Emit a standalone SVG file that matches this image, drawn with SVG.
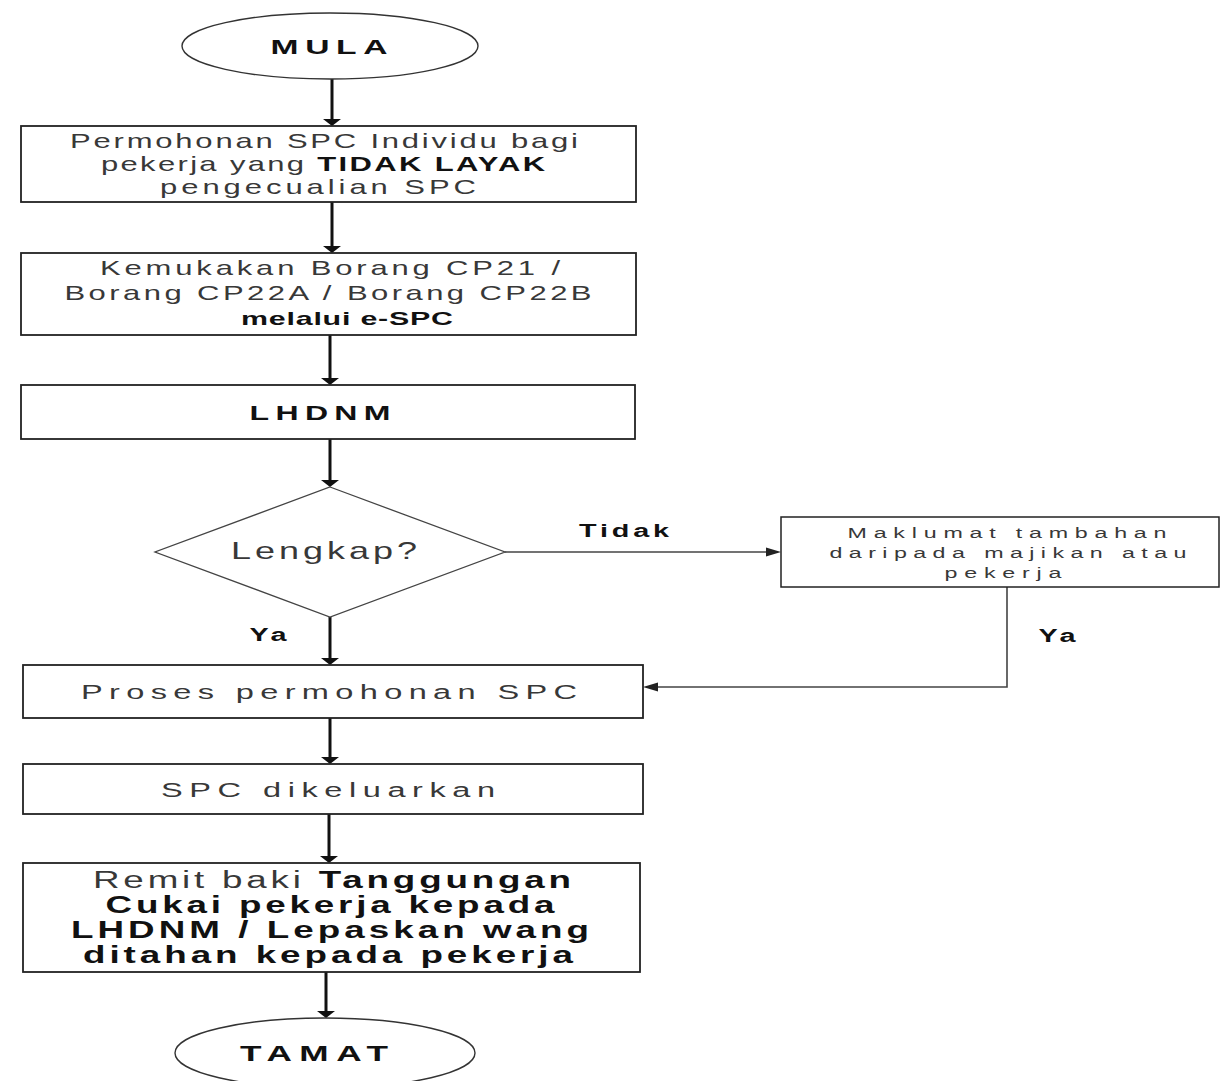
<svg xmlns="http://www.w3.org/2000/svg" width="1222" height="1081" viewBox="0 0 1222 1081">
<style>
.bg{fill:#ffffff}
.box{fill:#ffffff;stroke:#222;stroke-width:1.8}
.term{fill:#ffffff;stroke:#333;stroke-width:1.4}
.dia{fill:#ffffff;stroke:#444;stroke-width:1.3}
.t{font-family:"Liberation Sans",Arial,sans-serif;fill:#383838;text-anchor:middle}
.b{font-family:"Liberation Sans",Arial,sans-serif;fill:#111;font-weight:bold;text-anchor:middle}
.bs{fill:#111;font-weight:bold}
.thick{stroke:#111;stroke-width:3;fill:none}
.thin{stroke:#444;stroke-width:1.6;fill:none}
</style>
<defs>
<marker id="ah" markerUnits="userSpaceOnUse" markerWidth="10" markerHeight="20" refX="0" refY="9" orient="auto" overflow="visible">
<path d="M0,0 L7,9 L0,18 Z" fill="#111"/>
</marker>
<marker id="ahs" markerUnits="userSpaceOnUse" markerWidth="16" markerHeight="10" refX="0" refY="4.5" orient="auto" overflow="visible">
<path d="M0,0 L15,4.5 L0,9 Z" fill="#222"/>
</marker>
</defs>
<rect class="bg" x="0" y="0" width="1222" height="1081"/>

<g id="connectors">
<line class="thick" x1="332" y1="79" x2="332" y2="119" marker-end="url(#ah)"/>
<line class="thick" x1="332" y1="202" x2="332" y2="246" marker-end="url(#ah)"/>
<line class="thick" x1="330" y1="335" x2="330" y2="378" marker-end="url(#ah)"/>
<line class="thick" x1="330" y1="439" x2="330" y2="480" marker-end="url(#ah)"/>
<line class="thick" x1="330" y1="617" x2="330" y2="658" marker-end="url(#ah)"/>
<line class="thin" x1="505" y1="552" x2="766" y2="552" marker-end="url(#ahs)"/>
<polyline class="thin" points="1007,587 1007,687 658,687" marker-end="url(#ahs)"/>
<line class="thick" x1="330" y1="718" x2="330" y2="757" marker-end="url(#ah)"/>
<line class="thick" x1="329" y1="814" x2="329" y2="856" marker-end="url(#ah)"/>
<line class="thick" x1="326" y1="972" x2="326" y2="1011" marker-end="url(#ah)"/>
<text class="b" transform="translate(624,537) scale(1.6,1)" x="0" y="0" font-size="18" textLength="56.25" lengthAdjust="spacing">Tidak</text>
<text class="b" transform="translate(268,641) scale(1.6,1)" x="0" y="0" font-size="18" textLength="23.1" lengthAdjust="spacing">Ya</text>
<text class="b" transform="translate(1057,642) scale(1.6,1)" x="0" y="0" font-size="18" textLength="23.1" lengthAdjust="spacing">Ya</text>
</g>

<g id="mula">
<ellipse class="term" cx="330" cy="46" rx="148" ry="33"/>
<text class="b" transform="translate(329,54) scale(1.6,1)" x="0" y="0" font-size="21" textLength="73.1" lengthAdjust="spacing">MULA</text>
</g>

<g id="permohonan">
<rect class="box" x="21" y="126" width="615" height="76"/>
<text class="t" transform="translate(324,148) scale(1.55,1)" x="0" y="0" font-size="20" textLength="327.7" lengthAdjust="spacing">Permohonan SPC Individu bagi</text>
<text class="t" transform="translate(323,171) scale(1.55,1)" x="0" y="0" font-size="20" textLength="286.5" lengthAdjust="spacing">pekerja yang <tspan class="bs">TIDAK LAYAK</tspan></text>
<text class="t" transform="translate(318,194) scale(1.55,1)" x="0" y="0" font-size="20" textLength="203.9" lengthAdjust="spacing">pengecualian SPC</text>
</g>

<g id="borang">
<rect class="box" x="21" y="253" width="615" height="82"/>
<text class="t" transform="translate(330,275) scale(1.55,1)" x="0" y="0" font-size="20" textLength="296.8" lengthAdjust="spacing">Kemukakan Borang CP21 /</text>
<text class="t" transform="translate(328,300) scale(1.55,1)" x="0" y="0" font-size="20" textLength="340" lengthAdjust="spacing">Borang CP22A / Borang CP22B</text>
<text class="b" transform="translate(347,325) scale(1.6,1)" x="0" y="0" font-size="19" textLength="132.5" lengthAdjust="spacing">melalui e-SPC</text>
</g>

<g id="lhdnm">
<rect class="box" x="21" y="385" width="614" height="54"/>
<text class="b" transform="translate(320,420) scale(1.6,1)" x="0" y="0" font-size="20" textLength="88.1" lengthAdjust="spacing">LHDNM</text>
</g>

<g id="lengkap">
<polygon class="dia" points="330,487 505,552 330,617 155,552"/>
<text class="t" transform="translate(324,559) scale(1.5,1)" x="0" y="0" font-size="24" textLength="124" lengthAdjust="spacing">Lengkap?</text>
</g>

<g id="maklumat">
<rect class="box" x="781" y="517" width="438" height="70" style="stroke-width:1.5"/>
<text class="t" transform="translate(1007,538) scale(1.55,1)" x="0" y="0" font-size="15" textLength="205.8" lengthAdjust="spacing">Maklumat tambahan</text>
<text class="t" transform="translate(1008,558) scale(1.55,1)" x="0" y="0" font-size="15" textLength="230.3" lengthAdjust="spacing">daripada majikan atau</text>
<text class="t" transform="translate(1003,578) scale(1.55,1)" x="0" y="0" font-size="15" textLength="75.5" lengthAdjust="spacing">pekerja</text>
</g>

<g id="proses">
<rect class="box" x="23" y="665" width="620" height="53"/>
<text class="t" transform="translate(329,699) scale(1.55,1)" x="0" y="0" font-size="21" textLength="320" lengthAdjust="spacing">Proses permohonan SPC</text>
</g>

<g id="dikeluarkan">
<rect class="box" x="23" y="764" width="620" height="50"/>
<text class="t" transform="translate(328,797) scale(1.55,1)" x="0" y="0" font-size="21" textLength="215.5" lengthAdjust="spacing">SPC dikeluarkan</text>
</g>

<g id="remit">
<rect class="box" x="23" y="863" width="617" height="109"/>
<text class="t" transform="translate(332,888) scale(1.6,1)" x="0" y="0" font-size="23" textLength="298.75" lengthAdjust="spacing">Remit baki <tspan class="bs">Tanggungan</tspan></text>
<text class="b" transform="translate(330,913) scale(1.6,1)" x="0" y="0" font-size="23" textLength="280.6" lengthAdjust="spacing">Cukai pekerja kepada</text>
<text class="b" transform="translate(330,938) scale(1.6,1)" x="0" y="0" font-size="23" textLength="323.75" lengthAdjust="spacing">LHDNM / Lepaskan wang</text>
<text class="b" transform="translate(328,963) scale(1.6,1)" x="0" y="0" font-size="23" textLength="306.25" lengthAdjust="spacing">ditahan kepada pekerja</text>
</g>

<g id="tamat">
<ellipse class="term" cx="325" cy="1053" rx="150" ry="35"/>
<text class="b" transform="translate(314,1061) scale(1.6,1)" x="0" y="0" font-size="22" textLength="92.5" lengthAdjust="spacing">TAMAT</text>
</g>
</svg>
